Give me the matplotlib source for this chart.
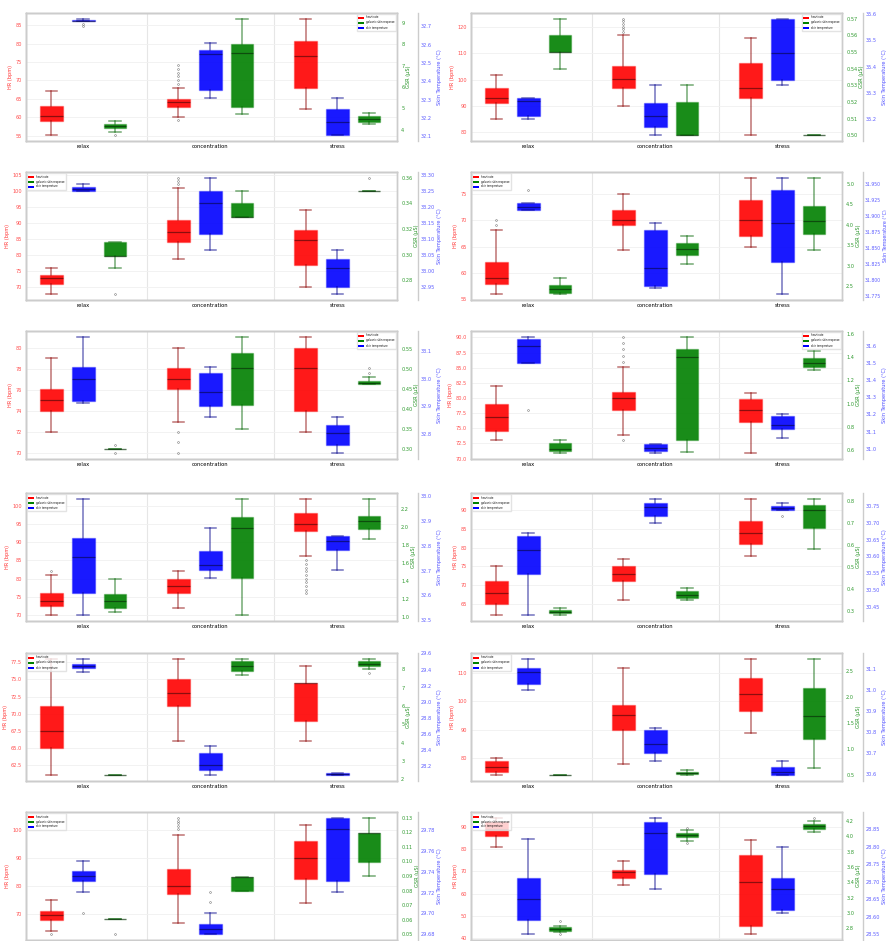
import matplotlib
matplotlib.use('Agg')
import matplotlib.pyplot as plt
from matplotlib.patches import Patch
from matplotlib.colors import to_rgba
from matplotlib.ticker import MultipleLocator

categories = ['relax', 'concentration', 'stress']
series_labels = ['heart rate', 'galvanic skin response', 'skin temperature']
axis_labels = ['HR (bpm)', 'GSR (µS)', 'Skin Temperature (°C)']

# box statistics per panel, per category: [whislo, q1, median, q3, whishi]
hr_boxes = [
    [[55.1, 58.9, 60.2, 63.0, 67.1], [60.0, 62.9, 64.1, 65.0, 68.0], [62.1, 67.9, 76.8, 80.8, 86.8]],
    [[85.2, 91.3, 93.0, 97.0, 102.0], [90.1, 97.0, 100.1, 105.1, 117.1], [78.9, 93.2, 97.0, 106.3, 116.0]],
    [[67.9, 71.0, 73.1, 73.9, 76.0], [78.9, 84.1, 87.2, 90.9, 101.1], [70.0, 76.9, 84.9, 87.9, 94.1]],
    [[56.0, 58.0, 59.1, 62.0, 68.1], [64.3, 69.0, 70.0, 72.0, 75.0], [65.0, 67.0, 70.0, 73.9, 78.0]],
    [[72.05, 74.0, 75.0, 76.06, 79.05], [73.0, 76.06, 77.03, 78.04, 80.0], [72.05, 74.0, 78.04, 80.0, 81.04]],
    [[73.0, 74.6, 76.9, 79.0, 82.0], [73.9, 78.0, 80.05, 81.0, 85.05], [70.9, 76.0, 78.0, 79.9, 80.9]],
    [[70.0, 72.6, 73.9, 76.0, 81.0], [72.1, 76.0, 78.0, 79.9, 82.2], [86.2, 93.1, 95.0, 98.0, 101.9]],
    [[61.9, 65.0, 67.9, 71.0, 75.0], [66.1, 71.0, 73.0, 75.0, 76.9], [77.9, 81.1, 84.0, 87.1, 93.1]],
    [[61.05, 65.0, 67.5, 71.07, 78.0], [66.0, 71.07, 73.0, 75.0, 78.0], [66.0, 68.9, 74.5, 74.5, 77.0]],
    [[73.9, 75.1, 76.8, 78.8, 80.0], [78.0, 89.8, 95.1, 98.9, 111.9], [88.9, 96.6, 102.7, 108.2, 115.1]],
    [[64.1, 68.1, 69.6, 71.1, 75.2], [66.9, 77.1, 80.0, 86.1, 98.2], [74.1, 82.6, 90.2, 96.1, 102.0]],
    [[81.0, 86.0, 89.0, 92.0, 94.0], [64.0, 66.9, 69.9, 70.7, 74.8], [41.9, 45.4, 65.4, 77.3, 84.0]],
]
hr_fliers = [
    [[], [59.1, 69.1, 70.1, 71.1, 72.1, 73.1, 74.1], []],
    [[], [118.2, 119.2, 120.2, 121.2, 122.2, 123.2], []],
    [[], [102.3, 103.2, 104.2], []],
    [[69.0, 70.0], [], []],
    [[], [72.05, 71.04, 70.0], []],
    [[], [73.0, 86.0, 87.0, 88.1, 89.1, 90.1], []],
    [[82.2], [], [76, 77, 78, 79, 80, 81, 82, 83, 84, 85]],
    [[], [], []],
    [[], [], []],
    [[], [], []],
    [[62.9], [100.5, 101.5, 102.5, 103.5, 104.5], []],
    [[], [], []],
]
gsr_boxes = [
    [[3.9, 4.07, 4.18, 4.27, 4.41], [4.72, 5.08, 7.6, 8.02, 9.19], [4.26, 4.37, 4.5, 4.63, 4.79]],
    [[0.540, 0.550, 0.550, 0.560, 0.570], [0.500, 0.500, 0.500, 0.520, 0.530], [0.500, 0.500, 0.500, 0.500, 0.500]],
    [[0.2894, 0.299, 0.299, 0.310, 0.310], [0.3296, 0.3296, 0.3296, 0.340, 0.350], [0.350, 0.350, 0.350, 0.350, 0.350]],
    [[2.30, 2.32, 2.43, 2.53, 2.70], [3.03, 3.25, 3.41, 3.54, 3.72], [3.37, 3.77, 4.09, 4.44, 5.14]],
    [[0.30, 0.30, 0.30, 0.30, 0.30], [0.3507, 0.4105, 0.5018, 0.541, 0.581], [0.462, 0.462, 0.466, 0.470, 0.481]],
    [[0.571, 0.594, 0.609, 0.658, 0.681], [0.580, 0.687, 1.40, 1.47, 1.577], [1.288, 1.317, 1.354, 1.398, 1.455]],
    [[1.059, 1.104, 1.18, 1.252, 1.419], [1.022, 1.437, 1.985, 2.115, 2.311], [1.863, 1.974, 2.07, 2.126, 2.311]],
    [[0.280, 0.291, 0.295, 0.303, 0.315], [0.351, 0.359, 0.374, 0.391, 0.402], [0.58, 0.679, 0.761, 0.783, 0.811]],
    [[2.22, 2.22, 2.22, 2.22, 2.22], [7.67, 7.89, 8.18, 8.44, 8.58], [8.04, 8.18, 8.31, 8.44, 8.58]],
    [[0.50, 0.505, 0.507, 0.509, 0.512], [0.507, 0.52, 0.55, 0.57, 0.60], [0.628, 1.19, 1.637, 2.168, 2.724]],
    [[0.0607, 0.0607, 0.0607, 0.0607, 0.0607], [0.08, 0.08, 0.0895, 0.0895, 0.0895], [0.0898, 0.0998, 0.1198, 0.1198, 0.13]],
    [[2.746, 2.768, 2.79, 2.81, 2.83], [3.944, 3.99, 4.024, 4.046, 4.09], [4.055, 4.103, 4.134, 4.165, 4.2]],
]
gsr_fliers = [
    [[3.74], [], []],
    [[], [], []],
    [[0.269], [], [0.360]],
    [[], [], []],
    [[0.311, 0.290], [], [0.491, 0.502]],
    [[], [], []],
    [[], [], []],
    [[], [], []],
    [[], [], [7.8]],
    [[], [], []],
    [[0.05], [], []],
    [[2.887, 2.72], [4.11, 3.91], [4.244]],
]
temp_boxes = [
    [[32.729, 32.729, 32.731, 32.733, 32.742], [32.309, 32.351, 32.551, 32.569, 32.611], [32.105, 32.105, 32.178, 32.247, 32.309]],
    [[35.203, 35.212, 35.268, 35.281, 35.281], [35.140, 35.171, 35.213, 35.262, 35.329], [35.329, 35.350, 35.452, 35.581, 35.581]],
    [[33.250, 33.250, 33.256, 33.262, 33.272], [33.065, 33.114, 33.212, 33.250, 33.290], [32.927, 32.948, 33.008, 33.036, 33.065]],
    [[31.910, 31.910, 31.915, 31.921, 31.921], [31.788, 31.791, 31.819, 31.879, 31.890], [31.778, 31.829, 31.890, 31.941, 31.960]],
    [[32.912, 32.921, 33.0, 33.044, 33.152], [32.861, 32.902, 32.954, 33.022, 33.044], [32.731, 32.761, 32.803, 32.833, 32.861]],
    [[31.50, 31.50, 31.60, 31.643, 31.653], [30.974, 30.984, 31.003, 31.029, 31.029], [31.064, 31.113, 31.14, 31.189, 31.204]],
    [[32.521, 32.612, 32.753, 32.83, 32.988], [32.671, 32.702, 32.722, 32.78, 32.87], [32.702, 32.783, 32.82, 32.84, 32.84]],
    [[30.425, 30.547, 30.618, 30.66, 30.671], [30.70, 30.72, 30.747, 30.76, 30.772], [30.74, 30.74, 30.745, 30.75, 30.76]],
    [[29.367, 29.42, 29.44, 29.47, 29.533], [28.088, 28.15, 28.22, 28.358, 28.45], [28.088, 28.088, 28.1, 28.117, 28.117]],
    [[31.0, 31.03, 31.084, 31.105, 31.148], [30.66, 30.70, 30.743, 30.81, 30.817], [30.592, 30.592, 30.608, 30.632, 30.66]],
    [[29.721, 29.731, 29.736, 29.741, 29.75], [29.68, 29.68, 29.685, 29.69, 29.70], [29.721, 29.731, 29.781, 29.792, 29.792]],
    [[28.55, 28.591, 28.65, 28.71, 28.821], [28.679, 28.721, 28.84, 28.871, 28.883], [28.61, 28.62, 28.68, 28.71, 28.80]],
]
temp_fliers = [
    [[32.715, 32.705], [], []],
    [[], [], []],
    [[], [], []],
    [[31.941], [], []],
    [[], [], []],
    [[31.224], [], []],
    [[], [], []],
    [[], [], [30.722]],
    [[], [], []],
    [[], [], []],
    [[29.70], [29.711, 29.721], []],
    [[], [], []],
]

# tick steps (HR, GSR, Temp) and legend location per panel
tick_steps = [(5, 1, 0.1), (10, 0.01, 0.1), (5, 0.02, 0.05), (5, 0.5, 0.025),
              (2, 0.05, 0.1), (2.5, 0.2, 0.1), (5, 0.2, 0.1), (5, 0.1, 0.05),
              (2.5, 1, 0.2), (10, 0.5, 0.1), (10, 0.01, 0.02), (10, 0.2, 0.05)]
legend_locs = ['upper right', 'upper right', 'upper left', 'upper left',
               'upper right', 'upper right', 'upper left', 'upper left',
               'upper left', 'upper left', 'upper left', 'upper left']

RED, GREEN, BLUE = '#ff0000', '#008000', '#0000ff'
DRED, DGREEN, DBLUE = '#8b0000', '#006400', '#00008b'

W, H = 887, 941
fig = plt.figure(figsize=(W / 100, H / 100), dpi=100)
lefts = [26, 471]
tops = [13, 172, 331, 493, 653, 812]
aw, ah = 371, 128
SPINE = '#cccccc'


def draw(ax, boxes, fliers, offset, color, dark):
    for i in range(3):
        s = boxes[i]
        st = dict(whislo=s[0], q1=s[1], med=s[2], q3=s[3], whishi=s[4], fliers=fliers[i])
        ax.bxp([st], positions=[i + offset], widths=0.18, patch_artist=True, manage_ticks=False,
               boxprops=dict(facecolor=to_rgba(color, 0.9), edgecolor=to_rgba(color, 0.35), linewidth=1.0),
               whiskerprops=dict(color=to_rgba(dark, 0.55), linewidth=1.1),
               capprops=dict(color=to_rgba(dark, 0.55), linewidth=1.1),
               medianprops=dict(color=to_rgba('black', 0.45), linewidth=0.9),
               flierprops=dict(marker='o', markersize=1.3, markerfacecolor='none',
                               markeredgecolor='#777777', markeredgewidth=0.4))


for p in range(12):
    row, col = divmod(p, 2)
    x0 = lefts[col]
    y0 = tops[row]
    ax = fig.add_axes([x0 / W, 1 - (y0 + ah) / H, aw / W, ah / H])
    ax2 = ax.twinx()
    ax3 = ax.twinx()
    ax3.spines['right'].set_position(('axes', 1 + 21 / aw))

    draw(ax, hr_boxes[p], hr_fliers[p], -0.25, RED, DRED)
    draw(ax2, gsr_boxes[p], gsr_fliers[p], 0.25, GREEN, DGREEN)
    draw(ax3, temp_boxes[p], temp_fliers[p], 0.0, BLUE, DBLUE)

    hs, gs, ts = tick_steps[p]
    for a, step, tc, lab, lc in [(ax, hs, '#ff4d4d', axis_labels[0], '#ff3333'),
                                 (ax2, gs, '#2e9a2e', axis_labels[1], '#1f8f1f'),
                                 (ax3, ts, '#5c5cff', axis_labels[2], '#4d4dff')]:
        a.yaxis.set_major_locator(MultipleLocator(step))
        a.ticklabel_format(axis='y', useOffset=False)
        a.tick_params(axis='y', labelsize=3.6, labelcolor=tc, length=0, pad=3)
        a.set_ylabel(lab, color=lc, fontsize=3.6, labelpad=1.5)
        for sp in a.spines.values():
            sp.set_color(SPINE)
            sp.set_linewidth(1.0)
        a.set_xlim(-0.45, 2.47)
    if p == 3:
        ax3.tick_params(axis='y', pad=1, labelsize=3.3)
        ax3.yaxis.label.set_fontsize(3.4)
        ax3.yaxis.set_label_coords(1.1115, 0.5)
    else:
        ax3.tick_params(axis='y', pad=2)
        ax3.yaxis.set_label_coords(1.107, 0.5)

    ax.set_xticks(range(3))
    ax.set_xticklabels(categories)
    ax.tick_params(axis='x', labelsize=3.8, length=0, pad=2)
    if row == 5:
        ax.tick_params(axis='x', labelbottom=False)
    ax.set_xticks([0.5, 1.5], minor=True)
    ax.tick_params(axis='x', which='minor', length=0)
    ax.grid(True, which='minor', axis='x', color='#e6e6e6', linewidth=0.8)
    ax.grid(True, which='major', axis='y', color='#f0f0f0', linewidth=0.6)
    ax.set_axisbelow(True)

    handles = [Patch(facecolor=RED, label=series_labels[0]),
               Patch(facecolor=GREEN, label=series_labels[1]),
               Patch(facecolor=BLUE, label=series_labels[2])]
    ax3.legend(handles=handles, loc=legend_locs[p], fontsize=1.8, frameon=True,
               handlelength=2.2, handleheight=1.0, borderpad=0.5, labelspacing=0.4,
               framealpha=0.8, edgecolor='#dddddd', fancybox=False)

fig.savefig('out.png', dpi=100)
